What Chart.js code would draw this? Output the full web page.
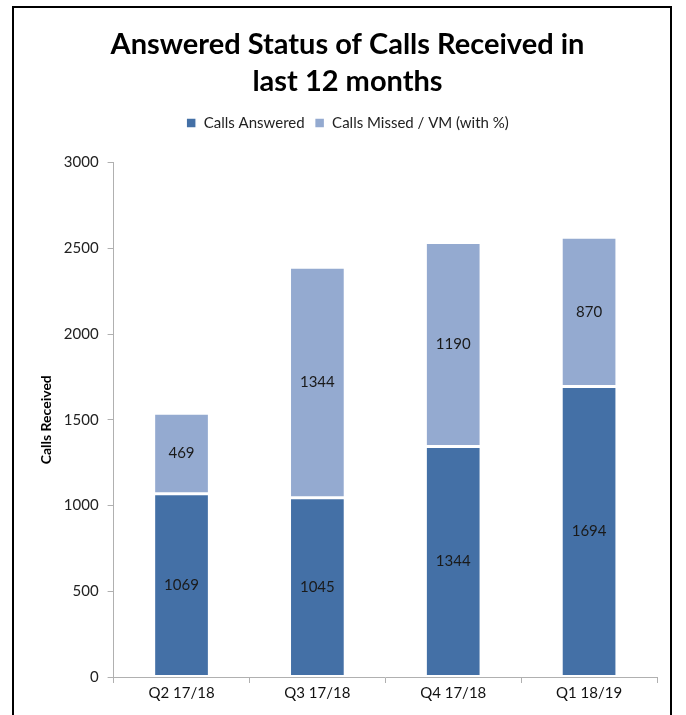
<!DOCTYPE html>
<html>
<head>
<meta charset="utf-8">
<script src="https://cdn.jsdelivr.net/npm/chart.js@4"></script>
<style>
  html, body { margin: 0; padding: 0; background: #fff; }
  #wrap { position: relative; width: 686px; height: 715px; overflow: hidden; }
  #frame { position: absolute; left: 12px; top: 6px; width: 660px; height: 740px; border: 2px solid #000; box-sizing: border-box; }
  #c { position: absolute; left: 0; top: 0; }
</style>
</head>
<body>
<div id="wrap">
  <div id="frame"></div>
  <canvas id="c" width="686" height="715"></canvas>
</div>
<script>
const categories = ['Q2 17/18', 'Q3 17/18', 'Q4 17/18', 'Q1 18/19'];
const callsAnswered = [1069, 1045, 1344, 1694];
const callsMissed = [469, 1344, 1190, 870];
const yTicks = [0, 500, 1000, 1500, 2000, 2500, 3000];

const FONT = "Lato, 'Open Sans', sans-serif";

const barLabels = {
  id: 'barLabels',
  afterDatasetsDraw(chart) {
    const ctx = chart.ctx;
    ctx.save();
    ctx.font = '15px ' + FONT;
    ctx.fillStyle = '#1a1a1a';
    ctx.textAlign = 'center';
    ctx.textBaseline = 'middle';
    chart.data.datasets.forEach((ds, i) => {
      const meta = chart.getDatasetMeta(i);
      meta.data.forEach((bar, j) => {
        const y = (bar.y + bar.base) / 2;
        ctx.fillText(String(ds.data[j]), bar.x, y);
      });
    });
    ctx.restore();
  }
};

const legendGap = {
  id: 'legendGap',
  beforeInit(chart) {
    const orig = chart.legend.fit;
    chart.legend.fit = function () { orig.call(this); this.height += 22; };
  }
};

new Chart(document.getElementById('c'), {
  type: 'bar',
  data: {
    labels: categories,
    datasets: [
      { label: 'Calls Answered', data: callsAnswered, backgroundColor: '#4470A6', borderColor: '#ffffff', borderWidth: 1.5, borderSkipped: false, barPercentage: 0.41, categoryPercentage: 1 },
      { label: 'Calls Missed / VM (with %)', data: callsMissed, backgroundColor: '#94AAD0', borderColor: '#ffffff', borderWidth: 1.5, borderSkipped: false, barPercentage: 0.41, categoryPercentage: 1 }
    ]
  },
  options: {
    responsive: false,
    animation: false,
    layout: { padding: { left: 38, right: 29, top: 27, bottom: 12 } },
    plugins: {
      title: {
        display: true,
        text: ['Answered Status of Calls Received in', 'last 12 months'],
        color: '#000',
        font: { family: FONT, size: 29, weight: 'bold', lineHeight: 1.25 },
        padding: { top: 0, bottom: 6 }
      },
      legend: {
        display: true,
        position: 'top',
        labels: {
          boxWidth: 10, boxHeight: 10, color: '#222',
          font: { family: FONT, size: 15 },
          padding: 10
        }
      },
      tooltip: { enabled: false }
    },
    scales: {
      x: {
        stacked: true,
        grid: { display: true, drawOnChartArea: false, color: '#b0b0b0', tickLength: 6, offset: true },
        border: { color: '#b0b0b0' },
        ticks: { color: '#111', font: { family: FONT, size: 15 }, padding: 1 }
      },
      y: {
        stacked: true,
        min: 0, max: 3000,
        afterBuildTicks(axis) { axis.ticks = yTicks.map(v => ({ value: v })); },
        grid: { display: true, drawOnChartArea: false, color: '#b0b0b0', tickLength: 6 },
        border: { color: '#b0b0b0' },
        ticks: { color: '#222', font: { family: FONT, size: 15 }, padding: 9, callback: v => String(v) },
        title: { display: true, text: 'Calls Received', color: '#000', font: { family: FONT, size: 14, weight: 'bold' }, padding: { top: 0, bottom: 0 } }
      }
    }
  },
  plugins: [barLabels, legendGap]
});
</script>
</body>
</html>
